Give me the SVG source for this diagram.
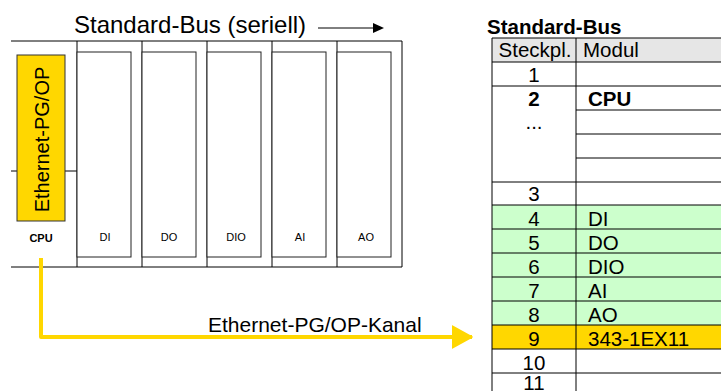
<svg xmlns="http://www.w3.org/2000/svg" width="721" height="391" viewBox="0 0 721 391">
<style>
text{font-family:"Liberation Sans",Arial,sans-serif;fill:#000}
.ln{stroke:#000;stroke-width:1;fill:none}
.inner{fill:#fff;stroke:#222;stroke-width:1}
.mlab{font-size:11px;text-anchor:middle}
.tt{font-size:20.5px}
.tc{font-size:20.5px;text-anchor:middle}
.b{font-weight:bold}
.yel{fill:#ffd700}
</style>
<defs>
<marker id="yarrow" markerUnits="userSpaceOnUse" markerWidth="22" markerHeight="24" refX="20" refY="12" orient="auto">
<path d="M0,1 L20,12 L0,23 Z" fill="#ffd700" stroke="#ffd700" stroke-width="1.5" stroke-linejoin="round"/>
</marker>
</defs>
<rect width="721" height="391" fill="#fff"/>

<g id="bus-title">
<text x="74" y="33" style="font-size:24px">Standard-Bus (seriell)</text>
<line x1="318" y1="28" x2="374" y2="28" class="ln"/>
<path d="M373,23 L384,28 L373,33 Z" fill="#000"/>
</g>

<g id="rack">
<line x1="11" y1="41" x2="402" y2="41" class="ln"/>
<line x1="11" y1="267" x2="402" y2="267" class="ln"/>
<line x1="402" y1="41" x2="402" y2="267" class="ln"/>
</g>

<g id="cpu">
<line x1="11" y1="171" x2="77" y2="171" class="ln"/>
<rect x="17" y="55" width="48" height="166" class="yel" stroke="#333" stroke-width="1"/>
<text transform="translate(48.5,139.5) rotate(-90)" text-anchor="middle" style="font-size:20px">Ethernet-PG/OP</text>
<text x="41" y="242" class="mlab b">CPU</text>
</g>

<g id="mod-di">
<line x1="77" y1="41" x2="77" y2="267" class="ln"/>
<rect x="77" y="52" width="54" height="205" class="inner"/>
<text x="105" y="241" class="mlab">DI</text>
</g>
<g id="mod-do">
<line x1="142" y1="41" x2="142" y2="267" class="ln"/>
<rect x="142" y="52" width="54" height="205" class="inner"/>
<text x="169" y="241" class="mlab">DO</text>
</g>
<g id="mod-dio">
<line x1="207" y1="41" x2="207" y2="267" class="ln"/>
<rect x="207" y="52" width="54" height="205" class="inner"/>
<text x="236" y="241" class="mlab">DIO</text>
</g>
<g id="mod-ai">
<line x1="272" y1="41" x2="272" y2="267" class="ln"/>
<rect x="272" y="52" width="54" height="205" class="inner"/>
<text x="300" y="241" class="mlab">AI</text>
</g>
<g id="mod-ao">
<line x1="337" y1="41" x2="337" y2="267" class="ln"/>
<rect x="337" y="52" width="54" height="205" class="inner"/>
<text x="366" y="241" class="mlab">AO</text>
</g>

<g id="connectors">
<path d="M41,258 V337 H472" fill="none" stroke="#ffd700" stroke-width="4" stroke-linejoin="round" marker-end="url(#yarrow)"/>
<text x="208" y="332" style="font-size:21px">Ethernet-PG/OP-Kanal</text>
</g>

<g id="table">
<text x="487" y="34" class="b" style="font-size:20.5px">Standard-Bus</text>
<rect x="492" y="38" width="240" height="24" fill="#e6e6e6"/>
<rect x="492" y="205" width="240" height="120" fill="#ccffcc"/>
<rect x="492" y="325" width="240" height="24" class="yel"/>
<g class="ln">
<line x1="492" y1="38" x2="721" y2="38"/>
<line x1="492" y1="62" x2="721" y2="62"/>
<line x1="492" y1="86" x2="721" y2="86"/>
<line x1="576" y1="110" x2="721" y2="110"/>
<line x1="576" y1="134" x2="721" y2="134"/>
<line x1="576" y1="158" x2="721" y2="158"/>
<line x1="492" y1="182" x2="721" y2="182"/>
<line x1="492" y1="205" x2="721" y2="205"/>
<line x1="492" y1="229" x2="721" y2="229"/>
<line x1="492" y1="253" x2="721" y2="253"/>
<line x1="492" y1="277" x2="721" y2="277"/>
<line x1="492" y1="301" x2="721" y2="301"/>
<line x1="492" y1="325" x2="721" y2="325"/>
<line x1="492" y1="349" x2="721" y2="349"/>
<line x1="492" y1="373" x2="721" y2="373"/>
<line x1="492" y1="38" x2="492" y2="391"/>
<line x1="576" y1="38" x2="576" y2="391"/>
</g>
<text x="535" y="57" class="tc">Steckpl.</text>
<text x="583" y="57" class="tt">Modul</text>
<text x="534" y="82" class="tc">1</text>
<text x="534" y="106" class="tc b">2</text>
<text x="588" y="106" class="tt b">CPU</text>
<text x="534" y="129" class="tc">...</text>
<text x="534" y="201" class="tc">3</text>
<text x="534" y="226" class="tc">4</text>
<text x="588" y="226" class="tt">DI</text>
<text x="534" y="250" class="tc">5</text>
<text x="588" y="250" class="tt">DO</text>
<text x="534" y="274" class="tc">6</text>
<text x="588" y="274" class="tt">DIO</text>
<text x="534" y="298" class="tc">7</text>
<text x="588" y="298" class="tt">AI</text>
<text x="534" y="322" class="tc">8</text>
<text x="588" y="322" class="tt">AO</text>
<text x="534" y="346" class="tc">9</text>
<text x="588" y="346" class="tt">343-1EX11</text>
<text x="534" y="370" class="tc">10</text>
<text x="534" y="390" class="tc">11</text>
</g>
</svg>
